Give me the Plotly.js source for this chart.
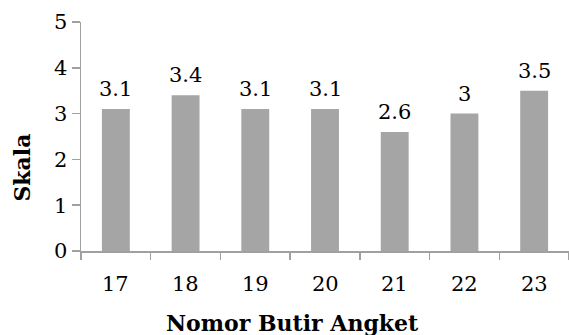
<!DOCTYPE html>
<html>
<head>
<meta charset="utf-8">
<script src="https://cdn.plot.ly/plotly-3.0.1.min.js"></script>
<style>html,body{margin:0;padding:0;background:#fff;}#chart{width:569px;height:335px;}</style>
</head>
<body>
<div id="chart"></div>
<script>
var categories = ["17", "18", "19", "20", "21", "22", "23"];
var values = [3.1, 3.4, 3.1, 3.1, 2.6, 3, 3.5];
var valueLabels = ["3.1", "3.4", "3.1", "3.1", "2.6", "3", "3.5"];
var yTicks = [0, 1, 2, 3, 4, 5];
var xTitle = "Nomor Butir Angket";
var yTitle = "Skala";

var FONT = "DejaVu Serif, Cambria, serif";
var axisColor = "#a0a0a0";

var annotations = categories.map(function (c, i) {
  return {
    x: i, y: values[i], xref: "x", yref: "y",
    text: valueLabels[i], showarrow: false,
    yanchor: "bottom", yshift: 6,
    font: {family: FONT, size: 21, color: "#000"}
  };
});
// category tick labels, placed at each category position
categories.forEach(function (c, i) {
  annotations.push({
    x: i, y: 0, xref: "x", yref: "paper",
    text: c, showarrow: false,
    yanchor: "top", yshift: -19,
    font: {family: FONT, size: 21, color: "#000"}
  });
});
annotations.push({
  xref: "paper", yref: "paper", x: (292 - 81) / (569 - 81), y: -(323 - 250.7) / 228.4,
  xanchor: "center", yanchor: "middle", showarrow: false,
  text: "<b>" + xTitle + "</b>",
  font: {family: FONT, size: 22, color: "#000"}
});
annotations.push({
  xref: "paper", yref: "paper", x: -(81 - 22) / 488, y: (250.7 - 167.5) / 228.4,
  xanchor: "center", yanchor: "middle", showarrow: false, textangle: -90,
  text: "<b>" + yTitle + "</b>",
  font: {family: FONT, size: 22, color: "#000"}
});

var data = [{
  type: "bar",
  x: categories,
  y: values,
  marker: {color: "#a5a5a5"},
  hoverinfo: "none"
}];

var layout = {
  width: 569, height: 335,
  margin: {l: 81, r: 0, t: 22, b: 84},
  paper_bgcolor: "#fff", plot_bgcolor: "#fff",
  bargap: 0.6,
  showlegend: false,
  font: {family: FONT, size: 21, color: "#000"},
  xaxis: {
    type: "category",
    range: [-0.5, categories.length - 0.5],
    showline: true, linecolor: axisColor, linewidth: 1.5,
    ticks: "outside", ticklen: 7, tickcolor: axisColor, tickwidth: 1.5,
    tickson: "boundaries", showticklabels: false,
    showgrid: false, zeroline: false
  },
  yaxis: {
    range: [0, 5],
    tickvals: yTicks,
    ticktext: yTicks.map(String),
    ticksuffix: "   ",
    showline: true, linecolor: axisColor, linewidth: 1.5,
    ticks: "outside", ticklen: 8, tickcolor: axisColor, tickwidth: 1.5,
    showgrid: false, zeroline: false,
    tickfont: {family: FONT, size: 21, color: "#000"}
  },
  annotations: annotations
};

Plotly.newPlot("chart", data, layout, {displayModeBar: false, staticPlot: true});
</script>
</body>
</html>
